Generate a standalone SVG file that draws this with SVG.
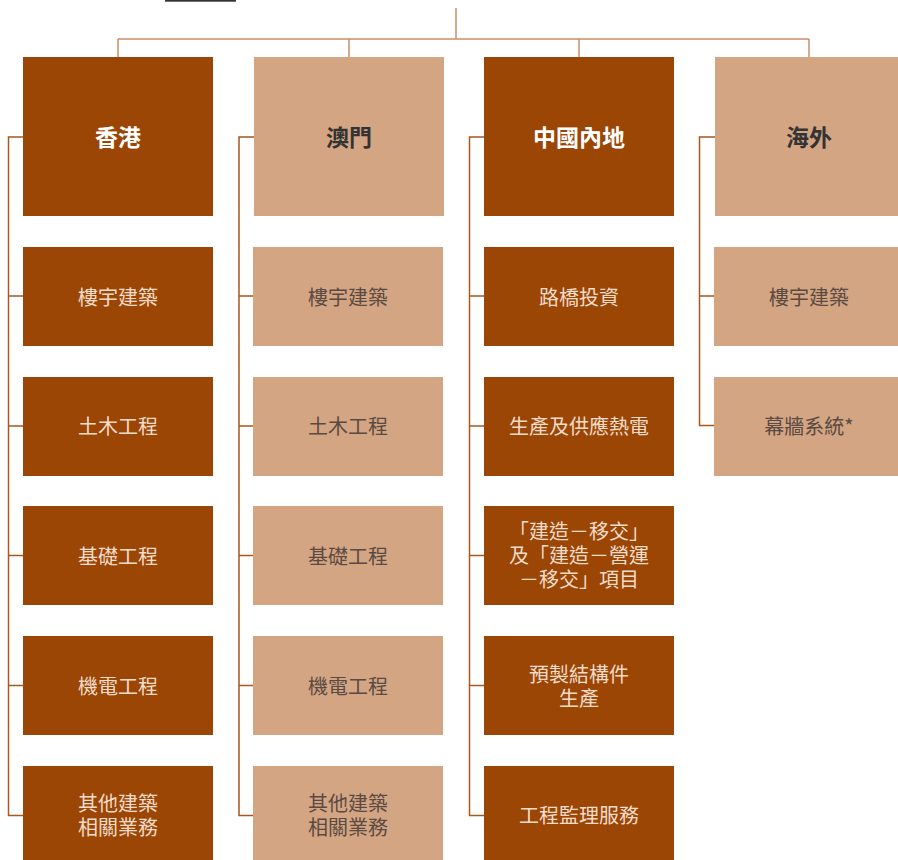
<svg xmlns="http://www.w3.org/2000/svg" width="898" height="860" viewBox="0 0 898 860">
<style>
.dk{fill:#9b4604}
.lt{fill:#d4a582}
.tt{font-family:"Noto Sans CJK TC","Noto Sans CJK SC",sans-serif;font-size:23px;font-weight:bold;text-anchor:middle;dominant-baseline:central}
.ct{font-family:"Noto Sans CJK TC","Noto Sans CJK SC",sans-serif;font-size:20px;text-anchor:middle;dominant-baseline:central}
.wt{fill:#ffffff}
.bt{fill:#333333}
.wc{fill:#f3dccb}
.bc{fill:#5a4a42}
.top{fill:none;stroke:#c98f64;stroke-width:1.5}
.side{fill:none;stroke:#a8571f;stroke-width:1.5}
</style>
<rect width="898" height="860" fill="#ffffff"/>
<rect x="165" y="0" width="71" height="1.7" fill="#333333"/>
<g id="connectors">
<path class="top" d="M456 8V39M118 39H809M118 39V57M349 39V57M579 39V57M809 39V57"/>
<path class="side" d="M23 137H8.5V815.5H23M8.5 296H23M8.5 426H23M8.5 555.5H23M8.5 685.5H23"/>
<path class="side" d="M254 137H239V815.5H253M239 296H253M239 426H253M239 555.5H253M239 685.5H253"/>
<path class="side" d="M484 137H469.5V815.5H484M469.5 296H484M469.5 426H484M469.5 555.5H484M469.5 685.5H484"/>
<path class="side" d="M715 137H699.5V425.5H714M699.5 296H714"/>
</g>
<g id="hk">
<rect class="dk" x="23" y="57" width="190" height="159"/>
<text class="tt wt" x="118" y="135.5">香港</text>
</g>
<g id="hk1"><rect class="dk" x="23" y="247" width="190" height="99"/><text class="ct wc" x="118" y="296">樓宇建築</text></g>
<g id="hk2"><rect class="dk" x="23" y="377" width="190" height="99"/><text class="ct wc" x="118" y="425">土木工程</text></g>
<g id="hk3"><rect class="dk" x="23" y="506" width="190" height="99"/><text class="ct wc" x="118" y="555">基礎工程</text></g>
<g id="hk4"><rect class="dk" x="23" y="636" width="190" height="99"/><text class="ct wc" x="118" y="685">機電工程</text></g>
<g id="hk5"><rect class="dk" x="23" y="766" width="190" height="99"/><text class="ct wc" x="118" y="802">其他建築<tspan x="118" dy="24">相關業務</tspan></text></g>
<g id="macau">
<rect class="lt" x="254" y="57" width="190" height="159"/>
<text class="tt bt" x="349" y="135.5">澳門</text>
</g>
<g id="mo1"><rect class="lt" x="253" y="247" width="190" height="99"/><text class="ct bc" x="348" y="296">樓宇建築</text></g>
<g id="mo2"><rect class="lt" x="253" y="377" width="190" height="99"/><text class="ct bc" x="348" y="425">土木工程</text></g>
<g id="mo3"><rect class="lt" x="253" y="506" width="190" height="99"/><text class="ct bc" x="348" y="555">基礎工程</text></g>
<g id="mo4"><rect class="lt" x="253" y="636" width="190" height="99"/><text class="ct bc" x="348" y="685">機電工程</text></g>
<g id="mo5"><rect class="lt" x="253" y="766" width="190" height="99"/><text class="ct bc" x="348" y="802">其他建築<tspan x="348" dy="24">相關業務</tspan></text></g>
<g id="china">
<rect class="dk" x="484" y="57" width="190" height="159"/>
<text class="tt wt" x="579" y="135.5">中國內地</text>
</g>
<g id="cn1"><rect class="dk" x="484" y="247" width="190" height="99"/><text class="ct wc" x="579" y="296">路橋投資</text></g>
<g id="cn2"><rect class="dk" x="484" y="377" width="190" height="99"/><text class="ct wc" x="579" y="425">生產及供應熱電</text></g>
<g id="cn3"><rect class="dk" x="484" y="506" width="190" height="99"/><text class="ct wc" x="579" y="530">「建造－移交」<tspan x="579" dy="24">及「建造－營運</tspan><tspan x="579" dy="24">－移交」項目</tspan></text></g>
<g id="cn4"><rect class="dk" x="484" y="636" width="190" height="99"/><text class="ct wc" x="579" y="673">預製結構件<tspan x="579" dy="24">生產</tspan></text></g>
<g id="cn5"><rect class="dk" x="484" y="766" width="190" height="99"/><text class="ct wc" x="579" y="814">工程監理服務</text></g>
<g id="overseas">
<rect class="lt" x="715" y="57" width="190" height="159"/>
<text class="tt bt" x="809" y="135.5">海外</text>
</g>
<g id="os1"><rect class="lt" x="714" y="247" width="190" height="99"/><text class="ct bc" x="809" y="296">樓宇建築</text></g>
<g id="os2"><rect class="lt" x="714" y="377" width="190" height="99"/><text class="ct bc" x="809" y="425">幕牆系統*</text></g>
</svg>
